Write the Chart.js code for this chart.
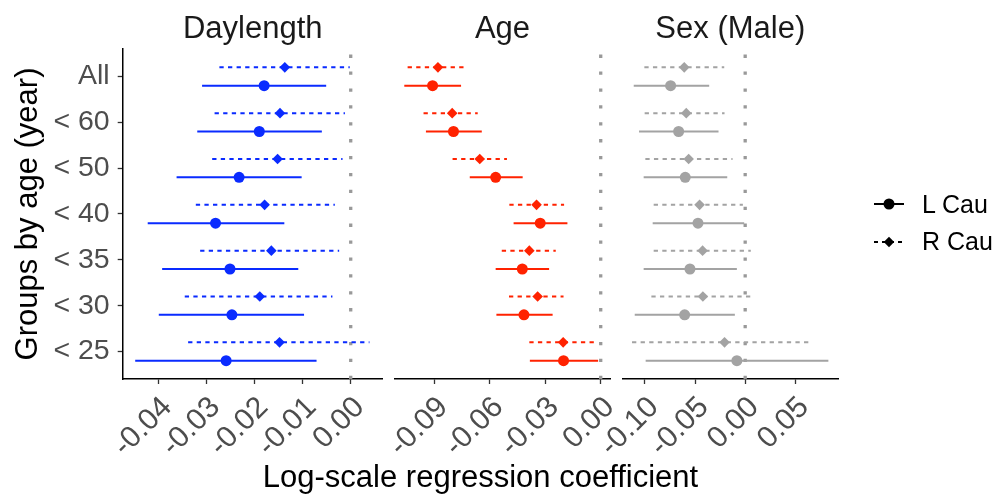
<!DOCTYPE html>
<html>
<head>
<meta charset="utf-8">
<script src="https://cdn.jsdelivr.net/npm/chart.js@4.4.1/dist/chart.umd.min.js"></script>
<style>
  body { margin: 0; background: #fff; font-family: "Liberation Sans", Arial, sans-serif; }
  #wrap { position: relative; width: 1005px; height: 495px; overflow: hidden; }
  #wrap canvas { position: absolute; left: 0; top: 0; }
  .strip { position: absolute; top: 12px; font-size: 31px; line-height: 31px; color: #1a1a1a; transform: translateX(-50%); white-space: nowrap; }
  #xtitle { position: absolute; left: 480.5px; top: 461px; font-size: 31px; line-height: 31px; color: #000; transform: translateX(-50%); white-space: nowrap; }
  .leg { position: absolute; left: 872px; height: 26px; display: flex; align-items: center; font-size: 25px; color: #000; }
  .leg svg { margin-right: 16px; }
</style>
</head>
<body>
<div id="wrap">
  <canvas id="day-chart" width="1005" height="495"></canvas>
  <canvas id="age-chart" width="1005" height="495"></canvas>
  <canvas id="sex-chart" width="1005" height="495"></canvas>
  <div class="strip" style="left:252.7px">Daylength</div>
  <div class="strip" style="left:502.5px">Age</div>
  <div class="strip" style="left:730.3px">Sex (Male)</div>
  <div id="xtitle">Log-scale regression coefficient</div>
  <div class="leg" style="top:191px">
    <svg width="34" height="20"><line x1="2" y1="10" x2="32" y2="10" stroke="#000" stroke-width="2"/><circle cx="17" cy="10" r="5.5" fill="#000"/></svg>L Cau
  </div>
  <div class="leg" style="top:228.5px">
    <svg width="34" height="20"><line x1="2" y1="10" x2="32" y2="10" stroke="#000" stroke-width="2" stroke-dasharray="4 4"/><polygon points="17,4.8 22.2,10 17,15.2 11.8,10" fill="#000"/></svg>R Cau
  </div>
</div>
<script>
// Age groups, top to bottom
const ageGroups = ['All', '< 60', '< 50', '< 40', '< 35', '< 30', '< 25'];

// Daylength
const dayLEst = [-0.0180, -0.0190, -0.0232, -0.0281, -0.0251, -0.0247, -0.0259];
const dayLLow = [-0.0309, -0.0319, -0.0362, -0.0422, -0.0392, -0.0399, -0.0448];
const dayLHigh = [-0.0051, -0.0060, -0.0102, -0.0138, -0.0109, -0.0097, -0.0071];
const dayREst = [-0.0137, -0.0147, -0.0152, -0.0179, -0.0165, -0.0189, -0.0148];
const dayRLow = [-0.0273, -0.0283, -0.0288, -0.0322, -0.0313, -0.0345, -0.0338];
const dayRHigh = [-0.0002, -0.0012, -0.0017, -0.0033, -0.0024, -0.0038, 0.0039];
const dayTicks = [-0.04, -0.03, -0.02, -0.01, 0];

// Age
const ageLEst = [-0.0909, -0.0796, -0.0568, -0.0327, -0.0424, -0.0415, -0.0201];
const ageLLow = [-0.1062, -0.0945, -0.0708, -0.0471, -0.0568, -0.0564, -0.0383];
const ageLHigh = [-0.0755, -0.0643, -0.0422, -0.0180, -0.0279, -0.0260, -0.0014];
const ageREst = [-0.0880, -0.0803, -0.0654, -0.0347, -0.0386, -0.0341, -0.0203];
const ageRLow = [-0.1044, -0.0958, -0.0801, -0.0494, -0.0535, -0.0496, -0.0386];
const ageRHigh = [-0.0719, -0.0665, -0.0507, -0.0198, -0.0243, -0.0201, -0.0014];
const ageTicks = [-0.09, -0.06, -0.03, 0];

// Sex (Male)
const sexLEst = [-0.0744, -0.0664, -0.0598, -0.0471, -0.0551, -0.0604, -0.0083];
const sexLLow = [-0.1112, -0.1059, -0.1013, -0.0923, -0.1013, -0.1102, -0.0993];
const sexLHigh = [-0.0359, -0.0266, -0.0179, -0.0010, -0.0083, -0.0103, 0.0830];
const sexREst = [-0.0608, -0.0588, -0.0564, -0.0455, -0.0425, -0.0422, -0.0206];
const sexRLow = [-0.1006, -0.1003, -0.0996, -0.0913, -0.0913, -0.0936, -0.1129];
const sexRHigh = [-0.0209, -0.0206, -0.0126, -0.0023, 0.0056, 0.0083, 0.0671];
const sexTicks = [-0.10, -0.05, 0, 0.05];

Chart.defaults.font.family = "'Liberation Sans', Arial, sans-serif";

const nGroups = ageGroups.length;
const dodge = 0.2;

function pointData(est, shift) {
    return est.map((v, i) => ({ x: v, y: nGroups - i + shift }));
}

// interval segments separated by gaps
function intervalData(low, high, shift) {
    const out = [];
    low.forEach((lo, i) => {
        const y = nGroups - i + shift;
        out.push({ x: lo, y: y }, { x: high[i], y: y }, { x: null, y: null });
    });
    return out;
}

function makePanel(canvasId, p) {
    const ctx = document.getElementById(canvasId).getContext('2d');
    const datasets = [
        { data: pointData(p.lEst, -dodge), pointStyle: 'circle', pointRadius: 5.5, pointBorderWidth: 0,
          pointBackgroundColor: p.color, showLine: false },
        { data: pointData(p.rEst, dodge), pointStyle: 'rectRot', pointRadius: 5.3, pointBorderWidth: 0,
          pointBackgroundColor: p.color, showLine: false },
        { data: intervalData(p.lLow, p.lHigh, -dodge), showLine: true, pointRadius: 0,
          borderColor: p.color, borderWidth: 2 },
        { data: intervalData(p.rLow, p.rHigh, dodge), showLine: true, pointRadius: 0,
          borderColor: p.color, borderWidth: 2, borderDash: [4.3, 4.3] },
        { data: [{ x: 0, y: 0.4 }, { x: 0, y: nGroups + 0.6 }], showLine: true, pointRadius: 0,
          borderColor: '#999999', borderWidth: 3.3, borderDash: [3.3, 13.6], borderCapStyle: 'butt' }
    ];
    return new Chart(ctx, {
        type: 'scatter',
        data: { datasets },
        options: {
            responsive: false,
            animation: false,
            events: [],
            layout: { padding: { left: p.left, right: 1005 - p.right, top: 49, bottom: 0 } },
            plugins: { legend: { display: false }, tooltip: { enabled: false } },
            scales: {
                x: {
                    type: 'linear', min: p.min, max: p.max,
                    afterBuildTicks: s => { s.ticks = p.ticks.map(v => ({ value: v })); },
                    afterFit: s => { s.height = 495 - 379; },
                    ticks: { callback: v => v.toFixed(2), minRotation: 45, maxRotation: 45, autoSkip: false,
                             font: { size: 30 }, color: '#4D4D4D', padding: 6, labelOffset: 9 },
                    grid: { drawOnChartArea: false, drawTicks: true, tickLength: 5, tickColor: '#333333', tickWidth: 1.3 },
                    border: { display: true, color: '#000000', width: 1.5 }
                },
                y: {
                    type: 'linear', min: 0.4, max: nGroups + 0.6, display: p.showY,
                    afterBuildTicks: s => { s.ticks = ageGroups.map((g, i) => ({ value: nGroups - i })); },
                    afterFit: s => { if (p.showY) s.width = 122.7; },
                    ticks: { callback: v => ageGroups[nGroups - v], font: { size: 28.5 }, color: '#4D4D4D', padding: 8 },
                    grid: { drawOnChartArea: false, drawTicks: true, tickLength: 5, tickColor: '#333333', tickWidth: 1.3 },
                    border: { display: true, color: '#000000', width: 1.5 },
                    title: { display: true, text: 'Groups by age (year)', font: { size: 31 }, color: '#000000',
                             padding: { top: 10, bottom: 0 } }
                }
            }
        }
    });
}

makePanel('day-chart', { lEst: dayLEst, lLow: dayLLow, lHigh: dayLHigh, rEst: dayREst, rLow: dayRLow, rHigh: dayRHigh,
    ticks: dayTicks, min: -0.0474, max: 0.00665, color: '#0A2BFF', left: 0, right: 382.7, showY: true });
makePanel('age-chart', { lEst: ageLEst, lLow: ageLLow, lHigh: ageLHigh, rEst: ageREst, rLow: ageRLow, rHigh: ageRHigh,
    ticks: ageTicks, min: -0.1116, max: 0.0054, color: '#FF2200', left: 394.3, right: 610.7, showY: false });
makePanel('sex-chart', { lEst: sexLEst, lLow: sexLLow, lHigh: sexLHigh, rEst: sexREst, rLow: sexRLow, rHigh: sexRHigh,
    ticks: sexTicks, min: -0.1226, max: 0.0929, color: '#A3A3A3', left: 622.3, right: 838.3, showY: false });
</script>
</body>
</html>
